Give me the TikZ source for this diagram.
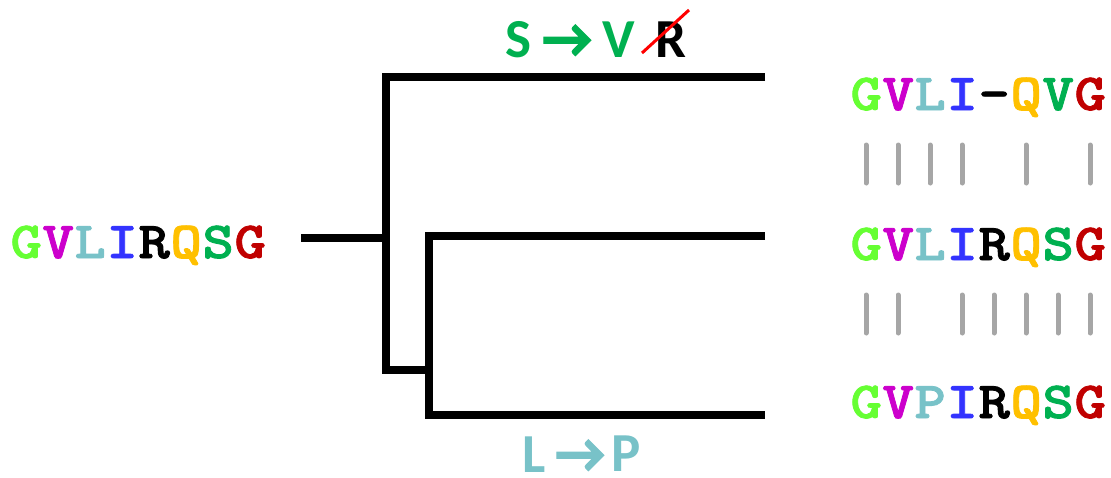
\documentclass[tikz,border=0pt]{standalone}
\usepackage{fontspec}
\newfontfamily\seqfont{lmmonolt10-bold.otf}[FakeStretch=1.15,FakeBold=1.6]
\newfontfamily\lblfont{Carlito}[BoldFont={Carlito Bold}]
\newfontfamily\arrfont{Carlito Bold}[FakeBold=2.5]
\definecolor{cG}{HTML}{66FF33}
\definecolor{cV}{HTML}{CC00CC}
\definecolor{cL}{HTML}{78C2C8}
\definecolor{cI}{HTML}{3333FF}
\definecolor{cQ}{HTML}{FFC000}
\definecolor{cS}{HTML}{00B050}
\definecolor{cGt}{HTML}{C00000}
\definecolor{barg}{HTML}{A6A6A6}
\newcommand{\cel}[2]{\makebox[32pt]{\textcolor{#1}{#2}}}
\begin{document}
\begin{tikzpicture}[x=1pt,y=-1pt,
  branch/.style={line width=8pt,line cap=butt,line join=miter},
  seq/.style={anchor=base west,inner sep=0pt,font=\seqfont\fontsize{52}{60}\selectfont},
  lbl/.style={anchor=base west,inner sep=0pt,font=\lblfont\bfseries\fontsize{55}{60}\selectfont},
  arr/.style={anchor=base west,inner sep=0pt,font=\arrfont\fontsize{55}{60}\selectfont},
  bar/.style={line width=5pt,line cap=round,draw=barg}]
\useasboundingbox (0,0) rectangle (1111,477);
% tree coordinates
\coordinate (R0) at (301,237.5);
\coordinate (Ac) at (385.5,237.5);
\coordinate (A1) at (385.5,77);
\coordinate (A2) at (385.5,370);
\coordinate (B0) at (429,370);
\coordinate (B1) at (429,236);
\coordinate (B2) at (429,415);
\coordinate (L1) at (765,77);
\coordinate (L2) at (765,236);
\coordinate (L3) at (765,415);
\draw[branch] (L1) -- (A1) -- (A2) -- (B0);
\draw[branch] (R0) -- (Ac);
\draw[branch] (L2) -- (B1) -- (B2) -- (L3);
% sequences
\node[seq] (root) at (10,258) {\cel{cG}{G}\cel{cV}{V}\cel{cL}{L}\cel{cI}{I}\cel{black}{R}\cel{cQ}{Q}\cel{cS}{S}\cel{cGt}{G}};
\node[seq] (s1) at (850,110) {\cel{cG}{G}\cel{cV}{V}\cel{cL}{L}\cel{cI}{I}\cel{black}{-}\cel{cQ}{Q}\cel{cS}{V}\cel{cGt}{G}};
\node[seq] (s2) at (850,260) {\cel{cG}{G}\cel{cV}{V}\cel{cL}{L}\cel{cI}{I}\cel{black}{R}\cel{cQ}{Q}\cel{cS}{S}\cel{cGt}{G}};
\node[seq] (s3) at (850,418) {\cel{cG}{G}\cel{cV}{V}\cel{cL}{P}\cel{cI}{I}\cel{black}{R}\cel{cQ}{Q}\cel{cS}{S}\cel{cGt}{G}};
% match bars
\foreach \i in {0,1,2,3,5,7} {\draw[bar] (866+32*\i,145) -- (866+32*\i,183);}
\foreach \i in {0,1,3,4,5,6,7} {\draw[bar] (866+32*\i,295) -- (866+32*\i,333);}
% mutation labels
\node[lbl,text=cS] (mS) at (505,57) {S};
\node[arr,text=cS] (mA1) at (542,57) {→};
\node[lbl,text=cS] (mV) at (602,57) {V};
\node[lbl] (mR) at (655,57) {R};
\draw[red,line width=3pt] (642,53) -- (689,10);
\node[lbl,text=cL] (mL) at (522,472) {L};
\node[arr,text=cL] (mA2) at (555,472) {→};
\node[lbl,text=cL] (mP) at (611,471) {P};
\end{tikzpicture}
\end{document}
